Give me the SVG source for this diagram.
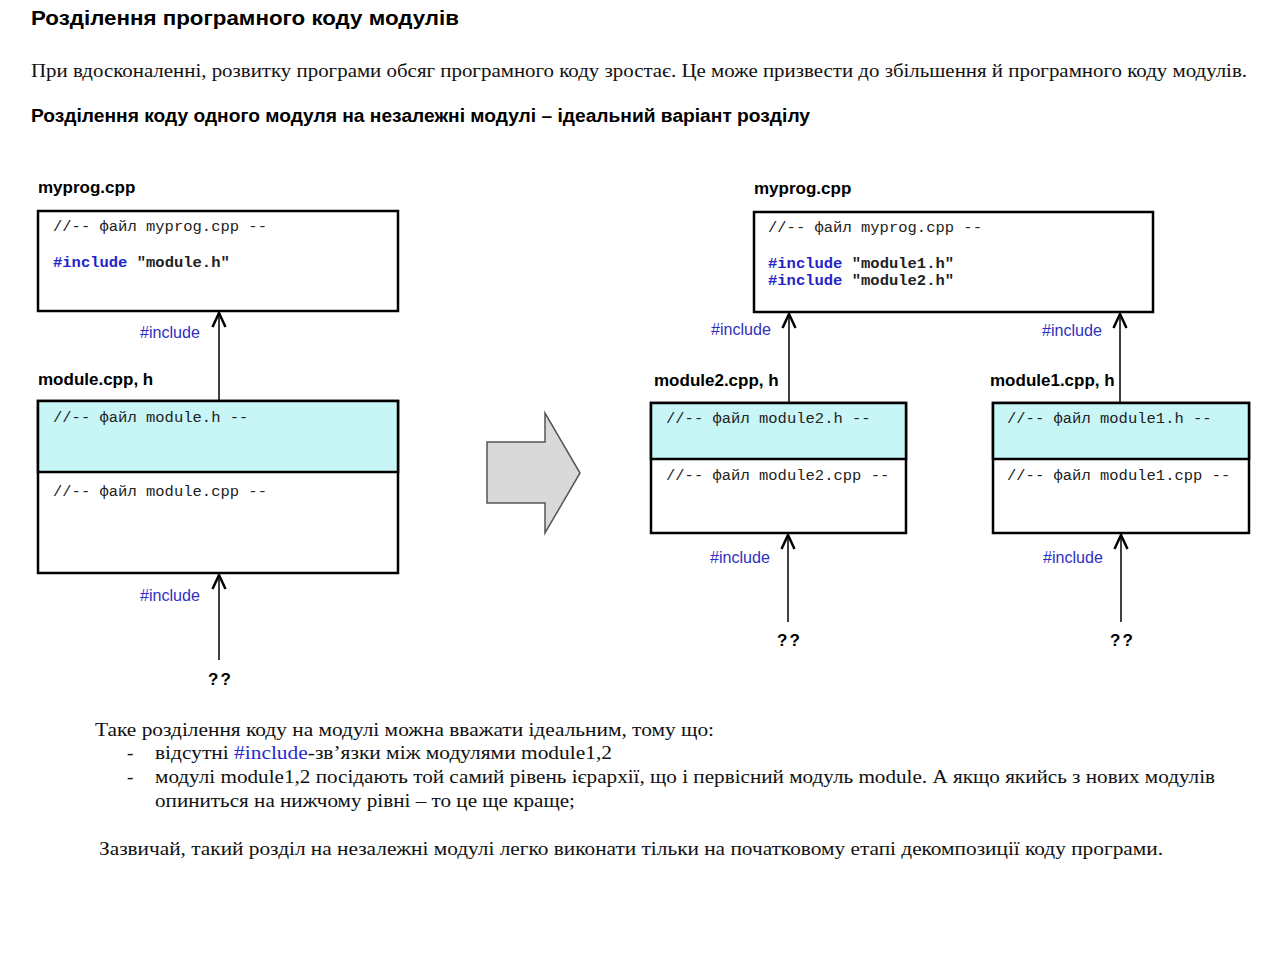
<svg xmlns="http://www.w3.org/2000/svg" width="1280" height="955" viewBox="0 0 1280 955">
<style>
.h1{font-family:"Liberation Sans",Arial,sans-serif;font-weight:bold;fill:#000}
.serif{font-family:"Liberation Serif","Times New Roman",serif;font-size:19px;fill:#111}
.lbl{font-family:"Liberation Sans",Arial,sans-serif;font-weight:bold;font-size:17px;fill:#000}
.code{font-family:"Liberation Mono","Courier New",monospace;font-size:15.5px;fill:#222}
.codeb{font-family:"Liberation Mono","Courier New",monospace;font-size:15.5px;font-weight:bold;fill:#222}
.kw{fill:#2424c8}
.inc{font-family:"Liberation Sans",Arial,sans-serif;font-size:16px;fill:#3030c0}
.q{font-family:"Liberation Sans",Arial,sans-serif;font-weight:bold;font-size:17px;fill:#000;letter-spacing:2px}
.box{fill:#fff;stroke:#000;stroke-width:2.5}
.hdr{fill:#c8f5f5;stroke:#000;stroke-width:2.5}
.conn{stroke:#000;stroke-width:1.5;fill:none;marker-end:url(#arr)}
</style>
<defs>
<marker id="arr" viewBox="0 0 16 16" refX="15" refY="8" markerWidth="16" markerHeight="16" markerUnits="userSpaceOnUse" orient="auto">
<path d="M1,1.5 L15,8 L1,14.5" fill="none" stroke="#000" stroke-width="2.5"/>
</marker>
</defs>
<rect width="1280" height="955" fill="#fff"/>

<g id="texts">
<text class="h1" x="31" y="25" font-size="19.5" textLength="428" lengthAdjust="spacingAndGlyphs">Розділення  програмного  коду  модулів</text>
<text class="serif" x="31" y="77" textLength="1216" lengthAdjust="spacingAndGlyphs">При вдосконаленні, розвитку програми обсяг програмного коду зростає. Це може призвести до збільшення й програмного коду модулів.</text>
<text class="h1" x="31" y="122" font-size="18" textLength="779" lengthAdjust="spacingAndGlyphs">Розділення коду одного модуля на незалежні модулі – ідеальний варіант розділу</text>

<text class="serif" x="95" y="736" textLength="619" lengthAdjust="spacingAndGlyphs">Таке розділення коду на модулі можна вважати ідеальним, тому що:</text>
<text class="serif" x="127" y="759">-</text>
<text class="serif" x="155" y="759" textLength="457" lengthAdjust="spacingAndGlyphs">відсутні <tspan fill="#2a2ad0">#include</tspan>-зв’язки між модулями module1,2</text>
<text class="serif" x="127" y="783">-</text>
<text class="serif" x="155" y="783" textLength="1060" lengthAdjust="spacingAndGlyphs">модулі module1,2 посідають той самий рівень ієрархії, що і первісний модуль module. А якщо якийсь з нових модулів</text>
<text class="serif" x="155" y="807" textLength="420" lengthAdjust="spacingAndGlyphs">опиниться на нижчому рівні – то це ще краще;</text>
<text class="serif" x="99" y="855" textLength="1064" lengthAdjust="spacingAndGlyphs">Зазвичай, такий розділ на незалежні модулі легко виконати тільки на початковому етапі декомпозиції коду програми.</text>
</g>

<g id="left-myprog">
<text class="lbl" x="38" y="193">myprog.cpp</text>
<rect class="box" x="38" y="211" width="360" height="100"/>
<text class="code" x="53" y="231">//-- файл myprog.cpp --</text>
<text class="codeb" x="53" y="267"><tspan class="kw">#include</tspan> "module.h"</text>
</g>

<g id="left-module">
<text class="lbl" x="38" y="385">module.cpp, h</text>
<rect class="box" x="38" y="401" width="360" height="172"/>
<rect class="hdr" x="38" y="401" width="360" height="71"/>
<text class="code" x="53" y="422">//-- файл module.h --</text>
<text class="code" x="53" y="496">//-- файл module.cpp --</text>
</g>

<g id="left-unknown">
<text class="q" x="208" y="685">??</text>
</g>

<g id="transform-arrow">
<polygon points="487,442 545,442 545,413 580,473 545,533 545,503 487,503" fill="#d9d9d9" stroke="#555" stroke-width="1.5"/>
</g>

<g id="right-myprog">
<text class="lbl" x="754" y="194">myprog.cpp</text>
<rect class="box" x="754" y="212" width="399" height="100"/>
<text class="code" x="768" y="232">//-- файл myprog.cpp --</text>
<text class="codeb" x="768" y="268"><tspan class="kw">#include</tspan> "module1.h"</text>
<text class="codeb" x="768" y="285"><tspan class="kw">#include</tspan> "module2.h"</text>
</g>

<g id="module2">
<text class="lbl" x="654" y="386">module2.cpp, h</text>
<rect class="box" x="651" y="403" width="255" height="130"/>
<rect class="hdr" x="651" y="403" width="255" height="56"/>
<text class="code" x="666" y="423">//-- файл module2.h --</text>
<text class="code" x="666" y="480">//-- файл module2.cpp --</text>
</g>

<g id="module1">
<text class="lbl" x="990" y="386">module1.cpp, h</text>
<rect class="box" x="993" y="403" width="256" height="130"/>
<rect class="hdr" x="993" y="403" width="256" height="56"/>
<text class="code" x="1007" y="423">//-- файл module1.h --</text>
<text class="code" x="1007" y="480">//-- файл module1.cpp --</text>
</g>

<g id="right-unknown-2">
<text class="q" x="777" y="646">??</text>
</g>
<g id="right-unknown-1">
<text class="q" x="1110" y="646">??</text>
</g>

<g id="connectors">
<line class="conn" x1="219" y1="400" x2="219" y2="313"/>
<text class="inc" x="140" y="338" textLength="60" lengthAdjust="spacingAndGlyphs">#include</text>
<line class="conn" x1="219" y1="660" x2="219" y2="575"/>
<text class="inc" x="140" y="601" textLength="60" lengthAdjust="spacingAndGlyphs">#include</text>

<line class="conn" x1="789" y1="402" x2="789" y2="314"/>
<text class="inc" x="711" y="335" textLength="60" lengthAdjust="spacingAndGlyphs">#include</text>
<line class="conn" x1="1120" y1="402" x2="1120" y2="314"/>
<text class="inc" x="1042" y="336" textLength="60" lengthAdjust="spacingAndGlyphs">#include</text>

<line class="conn" x1="788" y1="622" x2="788" y2="535"/>
<text class="inc" x="710" y="563" textLength="60" lengthAdjust="spacingAndGlyphs">#include</text>
<line class="conn" x1="1121" y1="622" x2="1121" y2="535"/>
<text class="inc" x="1043" y="563" textLength="60" lengthAdjust="spacingAndGlyphs">#include</text>
</g>
</svg>
